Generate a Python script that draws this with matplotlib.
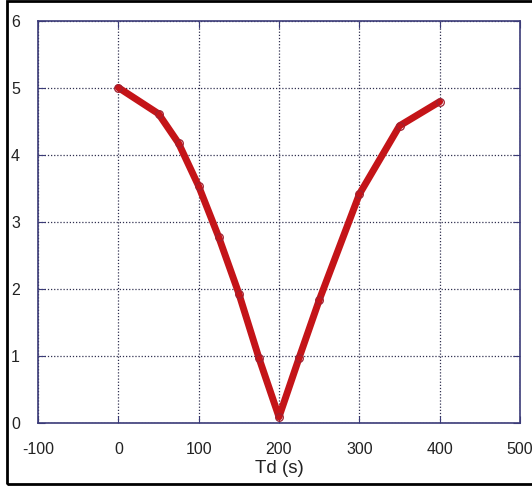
import matplotlib
matplotlib.use("Agg")
import matplotlib.pyplot as plt
from matplotlib.patches import Rectangle

td = [0, 50, 75, 100, 125, 150, 175, 200, 225, 250, 300, 350, 400]
vals = [5.0, 4.61, 4.17, 3.53, 2.77, 1.93, 0.97, 0.09, 0.97, 1.83, 3.41, 4.43, 4.79]
xticks = [-100, 0, 100, 200, 300, 400, 500]
yticks = [0, 1, 2, 3, 4, 5, 6]

plt.rcParams['font.family'] = ['Liberation Sans', 'DejaVu Sans']
plt.rcParams['axes.unicode_minus'] = False

fig = plt.figure(figsize=(5.32, 4.90), dpi=100)
fig.patch.set_facecolor('white')
ax = fig.add_axes([38/532, (490-423)/490, (520-38)/532, (423-20.5)/490])

spine_col = '#3b3b78'
ax.plot(td, vals, color='#c41418', lw=5, marker='o', ms=5.5,
        mfc='none', mec='#a02030', mew=0.9, solid_capstyle='round', zorder=3)

ax.set_xlim(-100, 500)
ax.set_ylim(0, 6)
ax.set_xticks(xticks)
ax.set_yticks(yticks)
ax.grid(True, color='#303050', linestyle=(0, (1, 1.5)), linewidth=0.9)
for s in ax.spines.values():
    s.set_color(spine_col)
    s.set_linewidth(1.2)
ax.tick_params(direction='in', length=5, color=spine_col, top=True, right=True,
               labelsize=11.5, labelcolor='#222222')
ax.tick_params(axis='x', pad=14)
ax.tick_params(axis='y', pad=13)
ax.set_xlabel('Td (s)', fontsize=13.5, color='#222222', labelpad=2)

fig.patches.append(Rectangle((7/532, (490-484)/490), 1.0, (484-1)/490,
                             transform=fig.transFigure, fill=False,
                             edgecolor='black', linewidth=2, zorder=10))

fig.savefig('out.png', dpi=100)
